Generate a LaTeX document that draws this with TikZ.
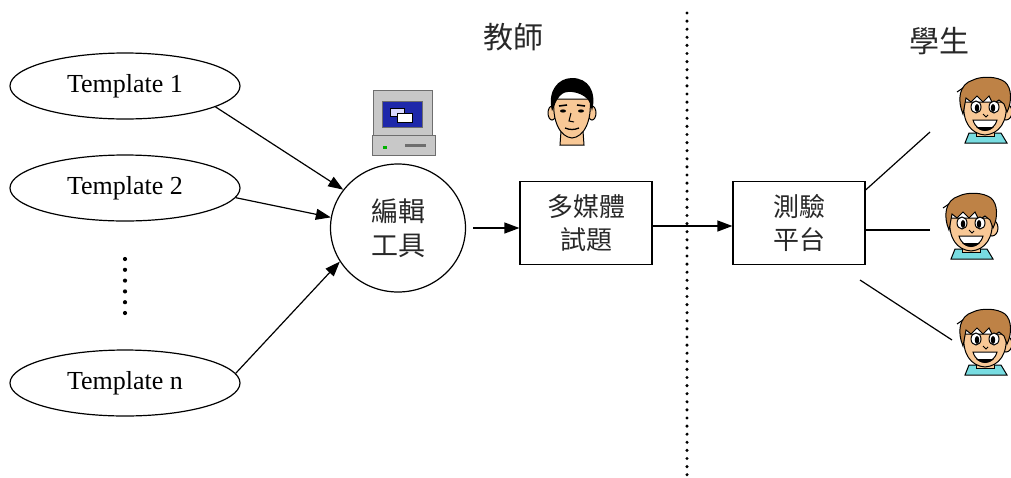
\documentclass[tikz,border=0pt]{standalone}
\usepackage{fontspec}
\setmainfont{Liberation Serif}
\newfontfamily\cjk{Noto Sans CJK TC}
\usetikzlibrary{arrows.meta,shapes.geometric}

\definecolor{skin}{RGB}{248,200,150}
\definecolor{hairbrown}{RGB}{190,130,70}
\definecolor{collar}{RGB}{120,220,225}
\definecolor{screenblue}{RGB}{30,40,170}
\definecolor{casegray}{RGB}{200,200,200}
\definecolor{darkgray}{RGB}{110,110,110}
\definecolor{cjkink}{RGB}{40,40,40}

\tikzset{
  tmpl/.style={draw,line width=1.2pt,ellipse,minimum width=230pt,minimum height=66pt,
               inner sep=0pt,font=\fontsize{26}{26}\selectfont},
  tool/.style={draw,line width=1.2pt,ellipse,minimum width=135pt,minimum height=128pt,
               inner sep=0pt,align=center,text=cjkink,font=\cjk\fontsize{27}{34}\selectfont},
  itembox/.style={draw,line width=1.2pt,rectangle,minimum width=132pt,minimum height=83pt,
               inner sep=0pt,align=center,text=cjkink,font=\cjk\fontsize{26}{33}\selectfont},
  role/.style={font=\cjk\fontsize{30}{30}\selectfont,text=cjkink,inner sep=0pt},
  arr/.style={line width=1.2pt,-{Triangle[length=15pt,width=11pt]}},
  link/.style={line width=1.2pt},
  outline/.style={draw=black,line width=1pt},
}

% cartoon student head, drawn around the scope origin
\newcommand{\studenthead}{%
  \fill[collar,outline] (-20,33) -- (-16,23) -- (16,23) -- (22,33) -- cycle;
  \fill[skin,outline] (-9,16) rectangle (9,26);
  \fill[skin,outline] (21,2) circle[x radius=6,y radius=8];
  \fill[skin,outline] (-21,-8) .. controls (-23,12) and (-14,24) .. (0,25)
        .. controls (14,24) and (23,12) .. (21,-8) -- cycle;
  \fill[hairbrown,outline] (-22,4) .. controls (-28,-10) and (-26,-26) .. (-12,-30)
        .. controls (-4,-34) and (12,-34) .. (20,-28)
        .. controls (27,-22) and (27,-8) .. (22,2) -- (19,-6) -- (14,-10)
        -- (8,-6) -- (4,-14) -- (-2,-8) -- (-8,-14) -- (-14,-8) -- (-19,-12) -- cycle;
  \draw[line width=1pt] (-22,-22) -- (-28,-18);
  \fill[white,outline] (-9,-3) ellipse[x radius=5,y radius=6];
  \fill[white,outline] (9,-3) ellipse[x radius=5,y radius=6];
  \fill (-8,-2) ellipse[x radius=2.2,y radius=4];
  \fill (8,-2) ellipse[x radius=2.2,y radius=4];
  \draw[line width=1pt] (-2,4) -- (1,7) -- (3,5);
  \fill[white,outline] (-12,10) .. controls (-8,24) and (8,24) .. (12,10) -- cycle;
  \fill[black] (-9,17) .. controls (-4,22) and (4,22) .. (9,17) -- cycle;
}

% cartoon teacher head
\newcommand{\teacherhead}{%
  \fill[skin,outline] (-11,20) -- (-12,34) -- (12,34) -- (11,20) -- cycle;
  \fill[skin,outline] (-20,2) circle[x radius=4,y radius=7];
  \fill[skin,outline] (20,2) circle[x radius=4,y radius=7];
  \fill[skin,outline] (-18,-12) .. controls (-20,10) and (-12,26) .. (0,27)
        .. controls (12,26) and (20,10) .. (18,-12) -- cycle;
  \fill[black] (-20,0) .. controls (-25,-20) and (-14,-33) .. (0,-33)
        .. controls (16,-33) and (25,-20) .. (20,0) -- (18,-8)
        .. controls (14,-18) and (-4,-22) .. (-10,-17)
        .. controls (-14,-14) and (-17,-8) .. (-18,-4) -- cycle;
  \draw[line width=1.6pt] (-13,-5) -- (-5,-6);
  \draw[line width=1.6pt] (5,-6) -- (13,-5);
  \fill (-9,0) ellipse[x radius=3,y radius=1.6];
  \fill (9,0) ellipse[x radius=3,y radius=1.6];
  \draw[line width=1pt] (-1,2) -- (-3,10) -- (2,11);
  \draw[line width=1.3pt] (-7,17) .. controls (-2,19) and (2,19) .. (7,17);
}

\begin{document}
\begin{tikzpicture}[x=1pt,y=-1pt]
  \useasboundingbox (0,0) rectangle (1011,477);

  % template ellipses
  \node[tmpl] (t1) at (125,86) {Template 1};
  \node[tmpl] (t2) at (125,188) {Template 2};
  \node[tmpl] (tn) at (125,383) {Template n};
  \foreach \k in {0,...,5}
    \fill (125,259+10.8*\k) circle[radius=2.1];

  % editor, item and test platform
  \node[tool] (ed) at (398,228) {編輯\\工具};
  \node[itembox] (item) at (586,223) {多媒體\\試題};
  \node[itembox] (plat) at (799,223) {測驗\\平台};

  \draw[arr] (t1.-13) -- (ed.145);
  \draw[arr] (t2.-5) -- (ed.171);
  \draw[arr] (tn.5) -- (ed.210);
  \draw[arr] ([xshift=7pt]ed.east) -- (ed.east -| item.west);
  \draw[arr] ([yshift=-3pt]item.east) -- ([yshift=-3pt]plat.west);

  % teacher / student divider
  \coordinate (divtop) at (687,13);
  \coordinate (divbot) at (687,477);
  \draw[line width=3.4pt,line cap=round,dash pattern=on 0pt off 8.1pt] (divtop) -- (divbot);

  % headings
  \node[role] (teach) at (513,37) {教師};
  \node[role] (stud) at (939,41) {學生};

  % computer icon
  \begin{scope}[shift={(402,122)}]
    \fill[casegray,draw=darkgray,line width=1pt] (-29,-32) rectangle (30,13);
    \fill[screenblue,draw=darkgray,line width=0.8pt] (-20,-21) rectangle (20,5);
    \fill[white!85!blue,draw=black,line width=0.6pt] (-12,-14) rectangle (2,-6);
    \fill[white,draw=black,line width=0.6pt] (-5,-9) rectangle (10,0);
    \fill[casegray,draw=darkgray,line width=1pt] (-30,13) rectangle (33,33);
    \fill[green!70!black] (-19,24) rectangle (-15,27);
    \fill[darkgray] (3,22) rectangle (24,25);
  \end{scope}
  \node[inner sep=0pt] (pc) at (402,122) {};

  % teacher
  \begin{scope}[shift={(572,111)}]
    \teacherhead
  \end{scope}
  \node[inner sep=0pt] (teacher) at (572,111) {};

  % students
  \begin{scope}[shift={(985,110)}] \studenthead \end{scope}
  \begin{scope}[shift={(971,226)}] \studenthead \end{scope}
  \begin{scope}[shift={(985,342)}] \studenthead \end{scope}
  \coordinate (s1) at (930,132);
  \coordinate (s2) at (930,230);
  \coordinate (s3) at (952,340);
  \coordinate (p3) at (860,280);

  \draw[link] ([yshift=33pt]plat.east) -- (s1);
  \draw[link] ([yshift=-7pt]plat.east) -- (s2);
  \draw[link] (p3) -- (s3);
\end{tikzpicture}
\end{document}
